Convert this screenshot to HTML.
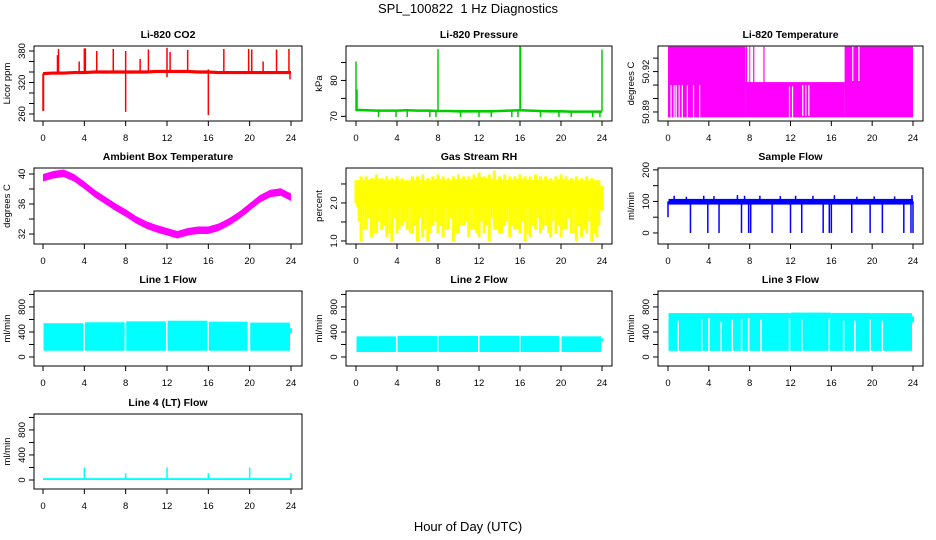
<!DOCTYPE html>
<html><head><meta charset="utf-8"><style>
html,body{margin:0;padding:0;background:#fff;}
svg{display:block;font-family:"Liberation Sans",sans-serif;}
</style></head><body>
<svg id="fig" width="936" height="540" viewBox="0 0 936 540" xmlns="http://www.w3.org/2000/svg">
<text x="468" y="13" text-anchor="middle" font-size="13">SPL_100822&#160; 1 Hz Diagnostics</text>
<text x="468" y="531" text-anchor="middle" font-size="13">Hour of Day (UTC)</text>
</svg>
<script>
// ---------- data ----------
const xTicks = [0,4,8,12,16,20,24];
const hourly = [0,1,2,3,4,5,6,7,8,9,10,11,12,13,14,15,16,17,18,19,20,21,22,23,24];
// CO2
const co2Base = [337,338,338,339,339,340,340,340,340,340,340,341,341,341,341,340,340,339,339,339,339,339,339,339,339];
const co2SpikeT = [0,0.05,1.4,1.5,3.5,4.0,4.1,5.2,6.8,8.0,8.0,9.4,10.2,12.0,12.0,12.3,14.0,16.0,16.0,17.5,19.9,20.2,21.3,22.6,23.8,23.9];
const co2SpikeV = [266,266,372,384,360,385,385,380,384,264,380,365,383,386,330,378,382,258,345,384,384,383,360,383,384,326];
// Pressure
const presBase = [71.8,71.7,71.6,71.6,71.6,71.7,71.6,71.6,71.5,71.5,71.4,71.4,71.4,71.4,71.5,71.6,71.7,71.6,71.5,71.4,71.4,71.3,71.3,71.3,71.3];
const presSpikeT = [0,0.1,8.0,16.0,16.05,24.0];
const presSpikeV = [85.3,77.5,88.7,89.5,89.3,88.6];
const dipT = [2.2,3.9,5.0,7.2,7.8,10.2,12.0,13.2,15.2,15.8,18.0,19.8,21.0,23.1,23.8];
// Li-820 temperature: segments [start,end,low,high]
const tempSegStart = [0,7.6,17.3];
const tempSegEnd = [7.6,17.3,24];
const tempSegLow = [50.886,50.886,50.886];
const tempSegHigh = [50.9385,50.9122,50.9385];
const tempGapT = [0.3,0.6,0.8,1.1,1.4,1.9,2.5,3.1,11.9,12.2,13.2,13.5,13.8];
const tempGapLow = [50.884,50.884,50.884,50.884,50.884,50.884,50.884,50.884,50.884,50.884,50.887,50.887,50.887];
const tempGapHigh = [50.910,50.910,50.910,50.910,50.910,50.910,50.910,50.910,50.909,50.909,50.910,50.910,50.910];
const tempHiT = [7.7,8.0,8.4,9.4,17.4,17.9,18.5];
const tempHiGapT = [7.9,8.2,9.0,18.1,18.7];
// Ambient box temperature (hourly centre values)
const ambient = [39.5,39.9,40.1,39.5,38.5,37.4,36.5,35.6,34.8,33.9,33.2,32.7,32.3,31.9,32.3,32.5,32.5,32.9,33.6,34.5,35.6,36.7,37.4,37.6,36.9];
// RH (every half hour)
const rhLow = [2.0,1.0,1.3,1.1,1.2,1.3,1.1,1.0,1.2,1.4,1.3,1.2,1.0,1.1,1.0,1.4,1.2,1.1,1.3,1.0,1.2,1.4,1.1,1.3,1.1,1.2,1.0,1.3,1.2,1.4,1.1,1.3,1.2,1.0,1.1,1.3,1.2,1.4,1.1,1.2,1.1,1.3,1.2,1.0,1.1,1.2,1.0,1.1,1.8];
const rhHigh = [2.6,2.7,2.7,2.65,2.75,2.65,2.7,2.65,2.7,2.65,2.6,2.7,2.7,2.75,2.65,2.7,2.75,2.7,2.65,2.7,2.75,2.7,2.7,2.75,2.8,2.7,2.75,2.85,2.7,2.75,2.7,2.7,2.75,2.7,2.7,2.75,2.7,2.7,2.65,2.7,2.75,2.7,2.65,2.7,2.65,2.7,2.65,2.6,2.45];
const rhMid = [1.5,1.3,1.6,1.2,1.5,1.4,1.2,1.6,1.3,1.5,1.2,1.4,1.6,1.3,1.2,1.5,1.4,1.3,1.6,1.2,1.4,1.5,1.3,1.2,1.5,1.4,1.6,1.3,1.2,1.5,1.4,1.3,1.5,1.2,1.4,1.6,1.3,1.2,1.5,1.4,1.3,1.6,1.2,1.4,1.3,1.5,1.2,1.4];
// Sample flow
const sampleDropT = [2.2,3.9,5.0,7.2,7.9,8.1,10.2,12.0,13.1,15.2,15.8,16.0,18.0,19.8,21.0,23.1,23.8,24.0];
const sampleUpT = [0.6,1.8,3.5,4.5,6.8,7.5,9.0,11.0,12.5,14.2,16.3,18.5,20.2,22.2,23.9];
const sampleUpV = [118,115,118,117,120,118,118,117,118,118,120,115,116,116,120];
// Line flows: per-4h block upper levels
const blockStart = [0,4,8,12,16,20];
const blockEnd = [3.9,7.9,11.9,15.9,19.8,23.9];
const line1High = [540,555,570,580,565,550];
const line2High = [330,335,338,340,335,330];
const line3High = [700,700,705,710,705,700];
const line3GapT = [1.0,3.3,4.0,5.2,6.3,7.2,7.9,9.1,11.9,13.1,15.8,17.2,18.3,19.8,21.0];
const line3GapTop = [580,600,620,560,600,600,620,600,620,600,620,580,580,600,580];
const line4SpikeT = [4,8,12,16,20,24];
const line4SpikeV = [200,110,200,110,200,110];

// ---------- layout ----------
const svg = document.getElementById('fig');
const NS = 'http://www.w3.org/2000/svg';
const cols = [{L:34,R:302,x0:43,x1:291},{L:346,R:612,x0:356,x1:602},{L:658,R:923,x0:668,x1:913}];
const rows = [{T:46,B:121},{T:168,B:244},{T:291,B:366},{T:414,B:489}];

function el(tag, parent){ const e=document.createElementNS(NS,tag); parent.appendChild(e); return e; }

function panel(c, r, name, title, ylab, ymin, ymax, ticks, labels){
  const C=cols[c], R=rows[r];
  const g=el('g',svg);
  
  
  const sx=t=>C.x0+(C.x1-C.x0)*t/24;
  const sy=v=>R.B-(v-ymin)/(ymax-ymin)*(R.B-R.T);
  const plot=el('g',g);
  
  
  const axes=el('g',g);
  
  
  const box=el('rect',axes);
  
  
  box.setAttribute('x',C.L); box.setAttribute('y',R.T); box.setAttribute('width',C.R-C.L); box.setAttribute('height',R.B-R.T);
  box.setAttribute('fill','none'); box.setAttribute('stroke','#000'); box.setAttribute('stroke-width','1');
  const t=el('text',axes);
  
  
  t.setAttribute('x',(C.L+C.R)/2); t.setAttribute('y',R.T-8); t.setAttribute('text-anchor','middle');
  t.setAttribute('font-size','10.5'); t.setAttribute('font-weight','bold'); t.textContent=title;
  xTicks.forEach(v=>{
    const l=el('line',axes);
    
    
    l.setAttribute('x1',sx(v)); l.setAttribute('x2',sx(v)); l.setAttribute('y1',R.B); l.setAttribute('y2',R.B+5); l.setAttribute('stroke','#000');
    const tx=el('text',axes);
    
    
    tx.setAttribute('x',sx(v)); tx.setAttribute('y',R.B+20); tx.setAttribute('text-anchor','middle'); tx.setAttribute('font-size','9.5'); tx.textContent=v;
  });
  ticks.forEach((v,i)=>{
    const l=el('line',axes);
    
    
    l.setAttribute('x1',C.L-5); l.setAttribute('x2',C.L); l.setAttribute('y1',sy(v)); l.setAttribute('y2',sy(v)); l.setAttribute('stroke','#000');
    if(labels[i]!==''){
      const tx=el('text',axes);
      
      
      tx.setAttribute('transform','translate('+(C.L-9)+','+sy(v)+') rotate(-90)');
      tx.setAttribute('text-anchor','middle'); tx.setAttribute('font-size','9.5'); tx.textContent=labels[i];
    }
  });
  const yl=el('text',axes);
  
  
  yl.setAttribute('transform','translate('+(C.L-24)+','+(R.T+R.B)/2+') rotate(-90)');
  yl.setAttribute('text-anchor','middle'); yl.setAttribute('font-size','9.5'); yl.textContent=ylab;
  return {g:plot,sx,sy};
}
function vline(P,t,a,b,col,w,nm){
  const l=el('line',P.g);
  
  
  l.setAttribute('x1',P.sx(t)); l.setAttribute('x2',P.sx(t)); l.setAttribute('y1',P.sy(a)); l.setAttribute('y2',P.sy(b));
  l.setAttribute('stroke',col); l.setAttribute('stroke-width',w);
}
function rect(P,t0,t1,a,b,col,nm){
  const r=el('rect',P.g);
  
  
  const x0=P.sx(t0),x1=P.sx(t1),y0=P.sy(b),y1=P.sy(a);
  r.setAttribute('x',x0); r.setAttribute('y',y0); r.setAttribute('width',Math.max(x1-x0,1)); r.setAttribute('height',Math.max(y1-y0,1)); r.setAttribute('fill',col);
}
function band(P,ts,lo,hi,col,nm){
  const p=el('polygon',P.g);
  
  
  const pts=[];
  ts.forEach((t,i)=>pts.push(P.sx(t)+','+P.sy(hi[i])));
  for(let i=ts.length-1;i>=0;i--) pts.push(P.sx(ts[i])+','+P.sy(lo[i]));
  p.setAttribute('points',pts.join(' ')); p.setAttribute('fill',col);
}

// ---------- CO2 ----------
let P=panel(0,0,'co2','Li-820 CO2','Licor ppm',246.7,389.5,[260,280,300,320,340,360,380],['260','','','320','','','380']);
band(P,hourly,co2Base.map(v=>v-3),co2Base.map(v=>v+3),'#ff0000','co2-band');
co2SpikeT.forEach((t,i)=>{ const b=co2Base[Math.round(t)]; vline(P,t,b,co2SpikeV[i],'#ff0000',1.5,'co2-spike'); });

// ---------- Pressure ----------
P=panel(1,0,'pressure','Li-820 Pressure','kPa',68.7,89.6,[70,75,80,85],['70','','80','']);
band(P,hourly,presBase.map(v=>v-0.35),presBase.map(v=>v+0.35),'#00cc00','pressure-band');
presSpikeT.forEach((t,i)=>vline(P,t,71.5,presSpikeV[i],'#00cc00',1.5,'pressure-spike'));
dipT.forEach(t=>vline(P,t,71.5,69.8,'#00cc00',1.5,'pressure-dip'));

// ---------- Li-820 Temperature ----------
P=panel(2,0,'li820-temp','Li-820 Temperature','degrees C',50.8833,50.939,[50.89,50.90,50.91,50.92,50.93],['50.89','','','50.92','']);
tempSegStart.forEach((s,i)=>rect(P,s,tempSegEnd[i],tempSegLow[i],tempSegHigh[i],'#ff00ff','temp-segment'));
tempHiT.forEach(t=>vline(P,t,50.91,50.9385,'#ff00ff',1.2,'temp-high-spike'));
tempHiGapT.forEach(t=>vline(P,t,50.913,50.939,'#ffffff',1.2,'temp-high-gap'));
tempGapT.forEach((t,i)=>vline(P,t,tempGapLow[i],tempGapHigh[i],'#ffffff',1.2,'temp-gap'));

// ---------- Ambient ----------
P=panel(0,1,'ambient','Ambient Box Temperature','degrees C',30.67,40.8,[32,34,36,38,40],['32','','36','','40']);
band(P,hourly,ambient.map(v=>v-0.5),ambient.map(v=>v+0.5),'#ff00ff','ambient-band');

// ---------- RH ----------
P=panel(1,1,'rh','Gas Stream RH','percent',0.92,2.92,[1.0,1.5,2.0,2.5],['1.0','','2.0','']);
band(P,hourly,hourly.map(()=>1.9),hourly.map((h,i)=>rhHigh[Math.min(i*2,48)]-0.1),'#ffff00','rh-core-band');
rhLow.forEach((v,i)=>{ const t=i*0.5; vline(P,t,v,rhHigh[i],'#ffff00',3,'rh-sample'); });
rhMid.forEach((v,i)=>{ const t=i*0.5+0.25; vline(P,t,v,2.6,'#ffff00',2,'rh-sample'); });

// ---------- Sample flow ----------
P=panel(2,1,'sample-flow','Sample Flow','ml/min',-35,206,[0,50,100,150,200],['0','','100','','200']);
rect(P,0.05,24,90,108,'#0000ff','sample-band');
vline(P,0,50,100,'#0000ff',1.5,'sample-start');
sampleDropT.forEach(t=>vline(P,t,0,100,'#0000ff',1.5,'sample-drop'));
sampleUpT.forEach((t,i)=>vline(P,t,100,sampleUpV[i],'#0000ff',1.5,'sample-spike'));

// ---------- Line flows ----------
const flowTicks=[0,200,400,600,800,1000], flowLabels=['0','','400','','800',''];
P=panel(0,2,'line1-flow','Line 1 Flow','ml/min',-144,1055,flowTicks,flowLabels);
blockStart.forEach((s,i)=>rect(P,s+0.05,blockEnd[i],100,line1High[i],'#00ffff','line1-block'));
vline(P,24,380,460,'#00ffff',2,'line1-end');
P=panel(1,2,'line2-flow','Line 2 Flow','ml/min',-144,1055,flowTicks,flowLabels);
blockStart.forEach((s,i)=>rect(P,s+0.05,blockEnd[i],80,line2High[i],'#00ffff','line2-block'));
vline(P,24,250,300,'#00ffff',2,'line2-end');
P=panel(2,2,'line3-flow','Line 3 Flow','ml/min',-144,1055,flowTicks,flowLabels);
rect(P,0.05,23.7,100,line3High[0],'#00ffff','line3-band');
blockStart.forEach((s,i)=>rect(P,s+0.05,blockEnd[i],100,line3High[i],'#00ffff','line3-block'));
line3GapT.forEach((t,i)=>vline(P,t,100,line3GapTop[i],'#ffffff',1.5,'line3-gap'));
vline(P,24,550,650,'#00ffff',2,'line3-end');
P=panel(0,3,'line4-flow','Line 4 (LT) Flow','ml/min',-144,1055,flowTicks,flowLabels);
rect(P,0,24,0,30,'#00ffff','line4-baseline');
line4SpikeT.forEach((t,i)=>vline(P,t,10,line4SpikeV[i],'#00ffff',1.5,'line4-spike'));
</script>
</body></html>
